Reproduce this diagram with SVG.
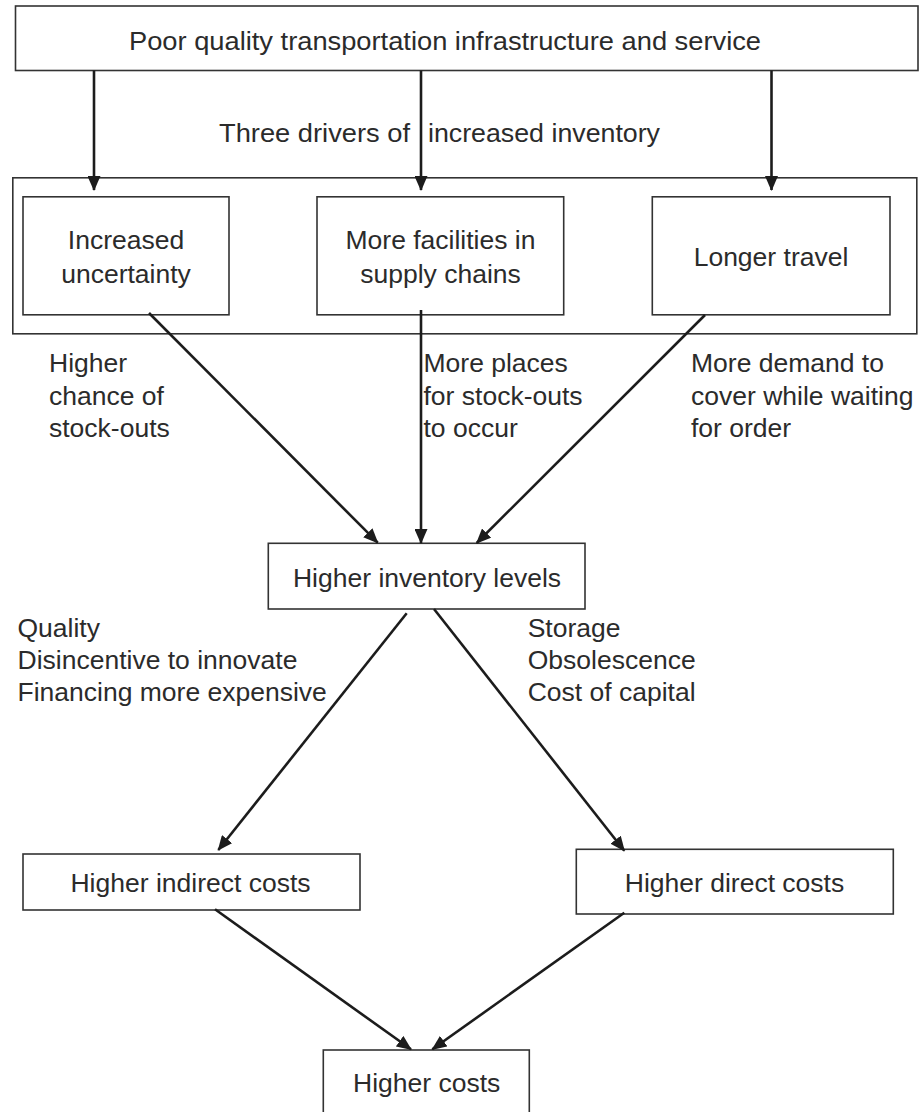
<svg xmlns="http://www.w3.org/2000/svg" width="920" height="1112" viewBox="0 0 920 1112">
  <style>
    .box { fill: #ffffff; stroke: #333333; stroke-width: 1.6; }
    .frame { fill: none; stroke: #333333; stroke-width: 1.6; }
    .lbl { font-family: "Liberation Sans", Arial, Helvetica, sans-serif; font-size: 26.5px; fill: #2b2b2b; }
    .mid { text-anchor: middle; }
    .edge { fill: none; stroke: #1c1c1c; stroke-width: 2.6; marker-end: url(#arrow); }
  </style>
  <defs>
    <marker id="arrow" markerUnits="userSpaceOnUse" markerWidth="15" markerHeight="13" refX="14" refY="6.5" orient="auto">
      <path d="M0,0 L15,6.5 L0,13 Z" fill="#1c1c1c"/>
    </marker>
  </defs>
  <rect width="920" height="1112" fill="#ffffff"/>

  <!-- root cause -->
  <g id="root">
    <rect class="box" x="15.5" y="6" width="902.5" height="64.5"/>
    <text class="lbl" x="129" y="50" textLength="632" lengthAdjust="spacingAndGlyphs">Poor quality transportation infrastructure and service</text>
  </g>

  <!-- caption above the drivers -->
  <g id="drivers-caption">
    <text class="lbl" y="142"><tspan x="219" textLength="191" lengthAdjust="spacingAndGlyphs">Three drivers of</tspan><tspan x="428" textLength="232" lengthAdjust="spacingAndGlyphs">increased inventory</tspan></text>
  </g>

  <!-- frame around the three drivers -->
  <g id="drivers">
    <rect class="frame" x="12.8" y="177.8" width="904" height="156"/>
    <g id="uncertainty">
      <rect class="box" x="23" y="196.8" width="206" height="118"/>
      <text class="lbl mid" x="126" y="249">Increased</text>
      <text class="lbl mid" x="126" y="283">uncertainty</text>
    </g>
    <g id="facilities">
      <rect class="box" x="317" y="196.8" width="246.7" height="118"/>
      <text class="lbl mid" x="440.5" y="249">More facilities in</text>
      <text class="lbl mid" x="440.5" y="283">supply chains</text>
    </g>
    <g id="travel">
      <rect class="box" x="652.3" y="196.8" width="237.7" height="118"/>
      <text class="lbl mid" x="771" y="266">Longer travel</text>
    </g>
  </g>

  <!-- effect labels -->
  <g id="label-stockouts">
    <text class="lbl" x="49" y="372">Higher</text>
    <text class="lbl" x="49" y="404.5">chance of</text>
    <text class="lbl" x="49" y="437">stock-outs</text>
  </g>
  <g id="label-places">
    <text class="lbl" x="423.5" y="372">More places</text>
    <text class="lbl" x="423.5" y="404.5">for stock-outs</text>
    <text class="lbl" x="423.5" y="437">to occur</text>
  </g>
  <g id="label-demand">
    <text class="lbl" x="691" y="372">More demand to</text>
    <text class="lbl" x="691" y="404.5">cover while waiting</text>
    <text class="lbl" x="691" y="437">for order</text>
  </g>

  <g id="inventory">
    <rect class="box" x="268.3" y="543.3" width="316.7" height="65.7"/>
    <text class="lbl mid" x="427" y="587">Higher inventory levels</text>
  </g>

  <g id="label-indirect">
    <text class="lbl" x="17.5" y="636.7">Quality</text>
    <text class="lbl" x="17.5" y="669">Disincentive to innovate</text>
    <text class="lbl" x="17.5" y="701.3">Financing more expensive</text>
  </g>
  <g id="label-direct">
    <text class="lbl" x="527.7" y="636.7">Storage</text>
    <text class="lbl" x="527.7" y="669">Obsolescence</text>
    <text class="lbl" x="527.7" y="701.3">Cost of capital</text>
  </g>

  <g id="indirect">
    <rect class="box" x="23" y="854" width="337" height="56"/>
    <text class="lbl mid" x="190.5" y="891.7">Higher indirect costs</text>
  </g>
  <g id="direct">
    <rect class="box" x="576.3" y="849.3" width="317" height="64.7"/>
    <text class="lbl mid" x="734.5" y="891.7">Higher direct costs</text>
  </g>
  <g id="costs">
    <rect class="box" x="323.3" y="1050" width="206" height="70"/>
    <text class="lbl mid" x="426.7" y="1092.3">Higher costs</text>
  </g>

  <!-- connectors -->
  <g id="connectors">
    <line class="edge" x1="94" y1="70.5" x2="94" y2="190"/>
    <line class="edge" x1="421" y1="70.5" x2="421" y2="190"/>
    <line class="edge" x1="771.5" y1="70.5" x2="771.5" y2="190"/>
    <line class="edge" x1="149" y1="313" x2="377.7" y2="542.7"/>
    <line class="edge" x1="421" y1="310" x2="421" y2="543"/>
    <line class="edge" x1="705" y1="315" x2="476.7" y2="543"/>
    <line class="edge" x1="406.7" y1="613.3" x2="218.3" y2="850"/>
    <line class="edge" x1="434" y1="609" x2="624.3" y2="850.7"/>
    <line class="edge" x1="215" y1="909.3" x2="411" y2="1049.3"/>
    <line class="edge" x1="624.3" y1="912.7" x2="432.3" y2="1049.3"/>
  </g>
</svg>
